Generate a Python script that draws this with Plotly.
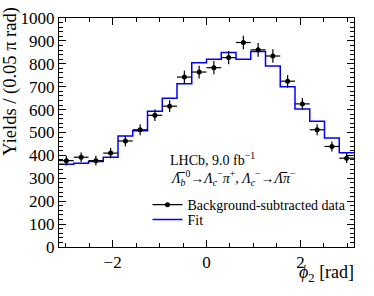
import numpy as np
import plotly.graph_objects as go

PI = np.pi
n_bins = 20
bin_edges = [-PI + k * 2 * PI / n_bins for k in range(n_bins + 1)]
bin_centers = [(bin_edges[k] + bin_edges[k + 1]) / 2 for k in range(n_bins)]
bin_halfwidth = [PI / n_bins] * n_bins

data_yields = [377, 392, 377, 410, 463, 512, 575, 615, 742, 764,
               783, 827, 893, 861, 834, 724, 625, 512, 439, 388]
data_errors = [21, 21, 21, 22, 23, 24, 25, 26, 28, 28,
               29, 29, 30, 30, 29, 27, 26, 24, 22, 21]
fit_yields = [361, 366, 373, 392, 485, 508, 593, 650, 713, 805,
              820, 849, 820, 854, 790, 700, 603, 549, 476, 412]

FONT = "Liberation Serif"

fig = go.Figure()

fig.add_trace(go.Scatter(
    x=bin_edges, y=fit_yields + [fit_yields[-1]],
    mode="lines", line=dict(shape="hv", color="#0000ff", width=1.5),
    showlegend=False, hoverinfo="skip"))

fig.add_trace(go.Scatter(
    x=bin_centers, y=data_yields, mode="markers",
    marker=dict(color="black", size=5),
    error_x=dict(type="data", array=bin_halfwidth, color="black", thickness=1.2, width=0),
    error_y=dict(type="data", array=data_errors, color="black", thickness=1.2, width=0),
    showlegend=False))

# legend-only entries
fig.add_trace(go.Scatter(
    x=[None], y=[None], mode="lines+markers",
    line=dict(color="black", width=1.2), marker=dict(color="black", size=5),
    name="Background-subtracted data", legend="legend"))
fig.add_trace(go.Scatter(
    x=[None], y=[None], mode="lines",
    line=dict(color="#0000ff", width=1.5), name="Fit", legend="legend2"))

axis_common = dict(
    showline=True, linecolor="black", linewidth=1, mirror="allticks",
    ticks="inside", tickcolor="black", showgrid=False, zeroline=False,
    tickfont=dict(family=FONT, size=17, color="black"),
)

fig.update_xaxes(
    range=[-PI, PI], tickmode="array", tickvals=[-2, 0, 2],
    ticktext=["\u22122", "0", "2"], ticklen=7,
    minor=dict(ticks="inside", ticklen=4, dtick=0.5, tick0=0, tickcolor="black"),
    **axis_common)
fig.update_yaxes(
    range=[0, 1000], dtick=100, tick0=0, ticklen=7,
    minor=dict(ticks="inside", ticklen=4, dtick=20, tick0=0, tickcolor="black"),
    **axis_common)

fig.add_annotation(
    text="Yields / (0.05 \u03c0 rad)", textangle=-90,
    xref="paper", yref="paper", x=-0.163, y=1.06, xanchor="center", yanchor="top",
    showarrow=False, font=dict(family=FONT, size=18.5, color="black"))

fig.add_annotation(
    text="<i>\u03d5</i><sub>2</sub> [rad]",
    xref="paper", yref="paper", x=1.007, y=-0.055, xanchor="right", yanchor="top",
    showarrow=False, font=dict(family=FONT, size=18, color="black"))

fig.add_annotation(
    text="LHCb, 9.0 fb<sup>\u22121</sup>",
    xref="paper", yref="paper", x=0.37, y=0.385, xanchor="left", yanchor="middle",
    showarrow=False, font=dict(family=FONT, size=14, color="black"))

fig.add_annotation(
    text="<i>\u039b\u0305</i><sub><i>b</i></sub><sup>0</sup>\u2192<i>\u039b</i><sub><i>c</i></sub><sup>\u2212</sup><i>\u03c0</i><sup>+</sup>, "
         "<i>\u039b</i><sub><i>c</i></sub><sup>\u2212</sup>\u2192<i>\u039b\u0305</i><i>\u03c0</i><sup>\u2212</sup>",
    xref="paper", yref="paper", x=0.37, y=0.30, xanchor="left", yanchor="middle",
    showarrow=False, font=dict(family=FONT, size=14, color="black"))

legend_common = dict(xanchor="left", yanchor="middle",
                     bgcolor="rgba(0,0,0,0)", borderwidth=0,
                     font=dict(family=FONT, size=14, color="black"),
                     tracegroupgap=0, itemwidth=30)

fig.update_layout(
    width=374, height=296,
    margin=dict(l=59, r=20, t=18, b=49, autoexpand=False),
    paper_bgcolor="white", plot_bgcolor="white",
    legend=dict(x=0.30, y=0.183, **legend_common),
    legend2=dict(x=0.30, y=0.118, **legend_common),
    font=dict(family=FONT, color="black"),
)

fig.write_html("out.html", config={"displayModeBar": False},
               post_script="document.body.style.margin='0px';")
